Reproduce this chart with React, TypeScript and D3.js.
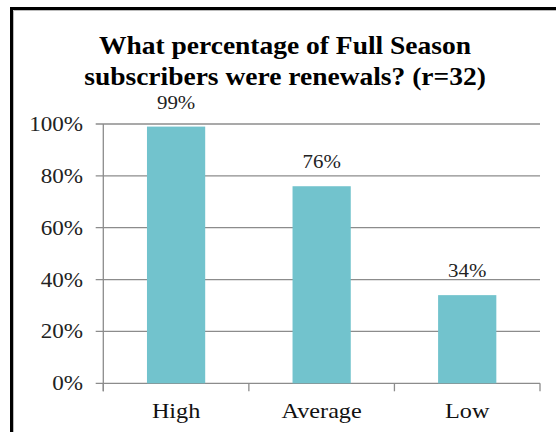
import React from "react";
import * as d3 from "d3";

const categories = ["High", "Average", "Low"];
const values = [0.99, 0.76, 0.34];
const valueLabels = ["99%", "76%", "34%"];
const yTicks = [0, 0.2, 0.4, 0.6, 0.8, 1.0];
const titleLines = ["What percentage of Full Season", "subscribers were renewals? (r=32)"];

export default function App() {
  const W = 556, H = 432;
  const left = 103.3, right = 540, top = 124, bottom = 383.3;
  const x = d3.scaleBand<string>().domain(categories).range([left, right]).paddingInner(0.6).paddingOuter(0.3);
  const y = d3.scaleLinear().domain([0, 1]).range([bottom, top]);
  const step = (right - left) / categories.length;
  const font = "'Liberation Serif', 'Times New Roman', serif";
  const grid = "#8c8c8c";
  const sx = 1.1;
  return (
    <svg width={W} height={H} style={{ position: "absolute", left: 0, top: 0, background: "#fff" }} fontFamily={font}>
      <rect x={0} y={0} width={W} height={H} fill="#fff" />
      <rect x={11.5} y={8.5} width={700} height={600} fill="none" stroke="#000" strokeWidth={3} />
      <line x1={13.5} y1={10.5} x2={W} y2={10.5} stroke="#bbb" strokeWidth={1} />
      <line x1={13.5} y1={10.5} x2={13.5} y2={H} stroke="#bbb" strokeWidth={1} />
      {titleLines.map((t, i) => (
        <text key={t} transform={`translate(285,${54 + i * 31}) scale(${sx},1)`} textAnchor="middle" fontWeight="bold" fontSize={25} fill="#000">{t}</text>
      ))}
      {yTicks.map((t) => (
        <g key={t}>
          <line x1={95.7} x2={right} y1={y(t)} y2={y(t)} stroke={grid} strokeWidth={1.3} />
          <text transform={`translate(83,${y(t) + 7}) scale(${sx},1)`} textAnchor="end" fontSize={21} fill="#222">{d3.format(".0%")(t)}</text>
        </g>
      ))}
      <line x1={left} x2={left} y1={top} y2={bottom + 8} stroke={grid} strokeWidth={1.3} />
      {d3.range(categories.length + 1).map((i) => (
        <line key={i} x1={left + i * step} x2={left + i * step} y1={bottom} y2={bottom + 8} stroke={grid} strokeWidth={1.3} />
      ))}
      {categories.map((c, i) => (
        <g key={c}>
          <rect x={x(c)} y={y(values[i])} width={x.bandwidth()} height={bottom - y(values[i])} fill="#72C3CD" />
          <text transform={`translate(${(x(c) as number) + x.bandwidth() / 2},${y(values[i]) - 18}) scale(${sx},1)`} textAnchor="middle" fontSize={19} fill="#222">{valueLabels[i]}</text>
          <text transform={`translate(${(x(c) as number) + x.bandwidth() / 2},418) scale(${sx},1)`} textAnchor="middle" fontSize={22} fill="#111">{c}</text>
        </g>
      ))}
    </svg>
  );
}
